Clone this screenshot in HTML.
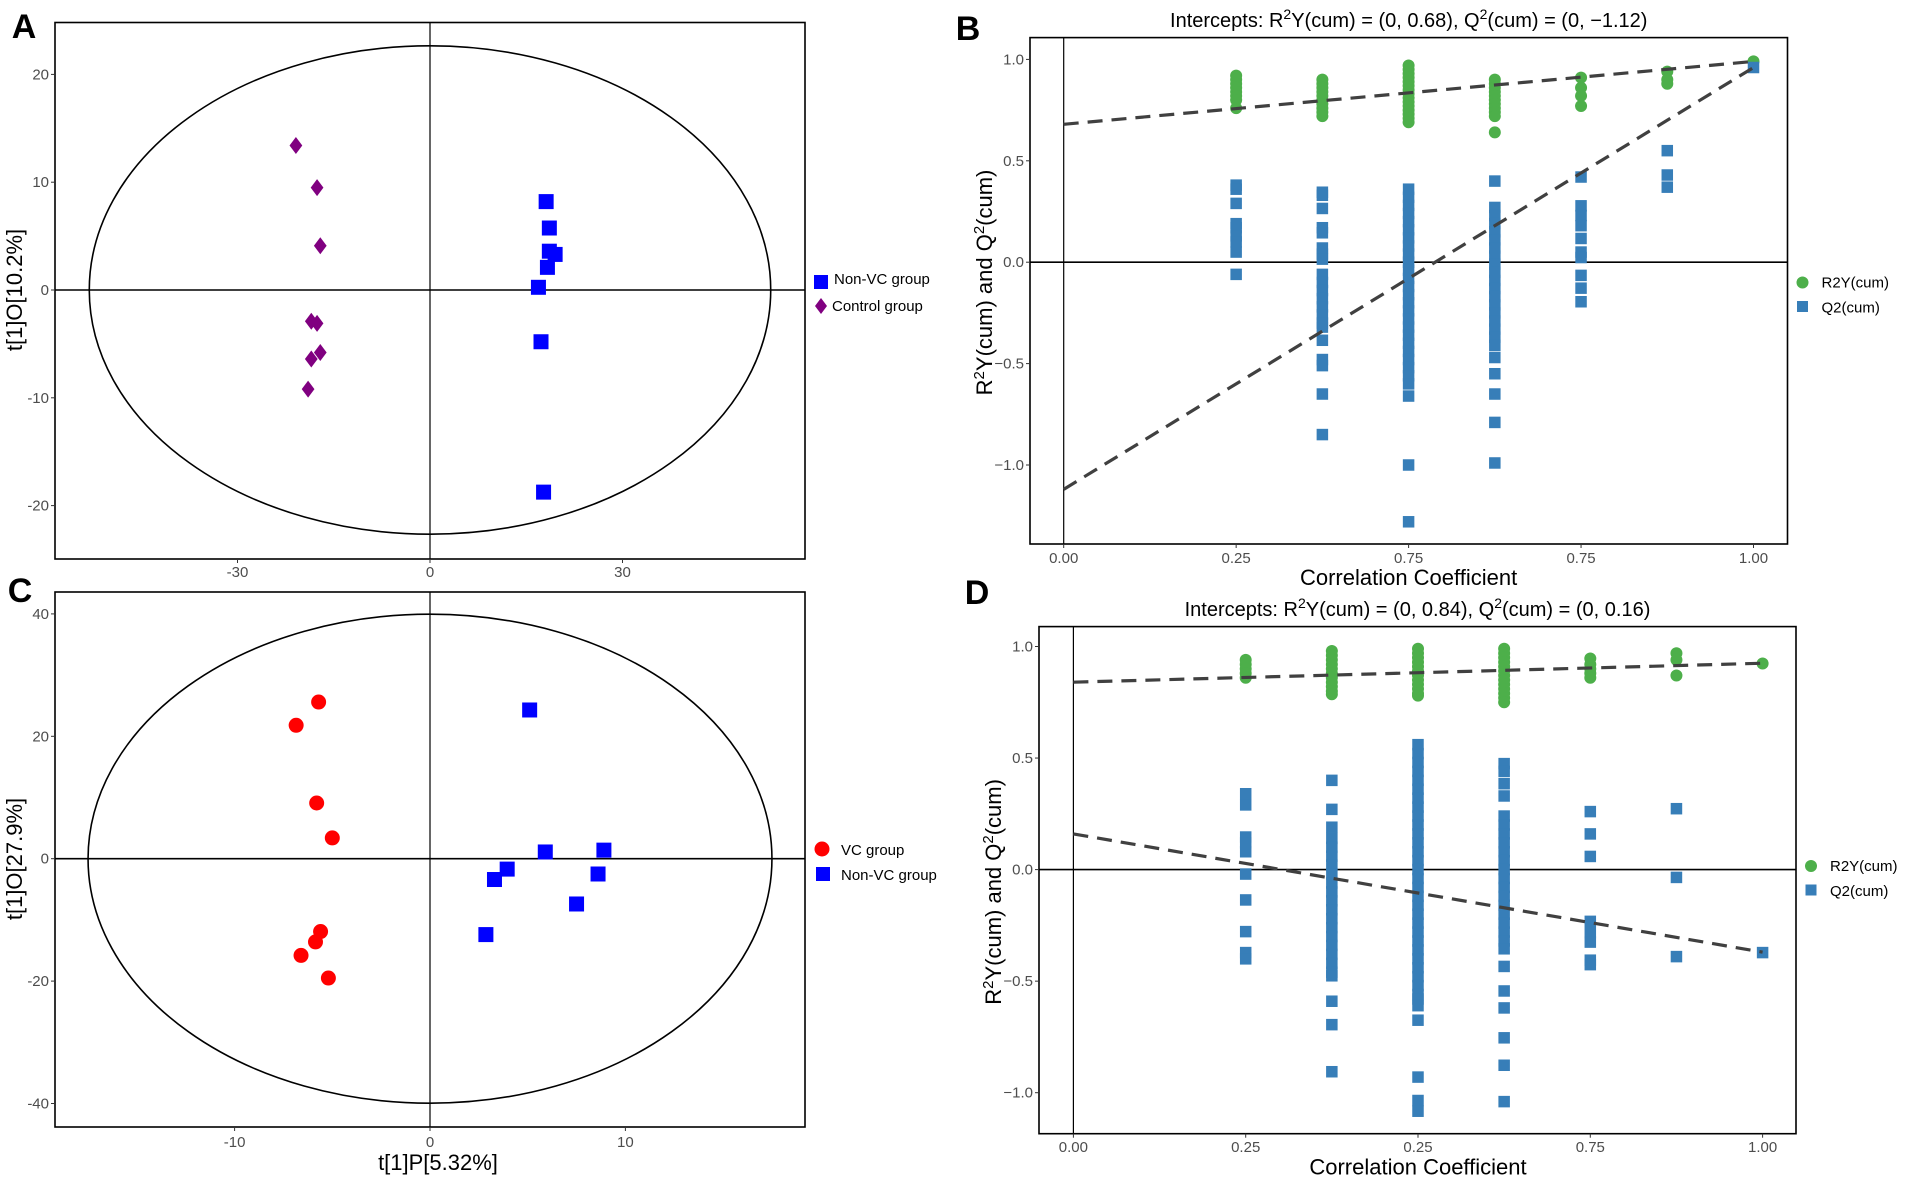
<!DOCTYPE html>
<html><head><meta charset="utf-8"><style>
html,body{margin:0;padding:0;background:#fff;}
svg{display:block;font-family:"Liberation Sans",Arial,sans-serif;}
.tick{font-size:15px;fill:#4d4d4d;}
.ttl{font-size:22px;fill:#000;}
.ctitle{font-size:20px;fill:#000;}
.leg{font-size:15px;fill:#000;}
.lab{font-size:34px;font-weight:bold;fill:#000;}
</style></head><body>
<svg id="fig" width="1905" height="1178" viewBox="0 0 1905 1178" xmlns="http://www.w3.org/2000/svg"></svg>
<script>
// ---- Panel A data ----
const A_ctrl_x=[-20.9,-17.6,-17.1,-18.5,-17.6,-18.5,-17.1,-19.0];
const A_ctrl_y=[13.4,9.5,4.1,-2.9,-3.1,-6.4,-5.8,-9.2];
const A_nonvc_x=[18.1,18.6,18.6,19.5,18.3,16.9,17.3,17.7];
const A_nonvc_y=[8.2,5.75,3.6,3.3,2.1,0.25,-4.8,-18.75];
const A_xticks=[-30,0,30];
const A_yticks=[-20,-10,0,10,20];
// ---- Panel C data ----
const C_vc_x=[-5.7,-6.85,-5.8,-5.0,-5.6,-5.86,-6.6,-5.2];
const C_vc_y=[25.6,21.8,9.1,3.4,-11.9,-13.6,-15.8,-19.5];
const C_nonvc_x=[5.1,5.9,8.9,3.95,3.3,8.6,7.5,2.86];
const C_nonvc_y=[24.3,1.1,1.4,-1.7,-3.4,-2.5,-7.4,-12.4];
const C_xticks=[-10,0,10];
const C_yticks=[-40,-20,0,20,40];
// ---- Panel B data ----
const perm_cols=[0.25,0.375,0.5,0.625,0.75,0.875,1.0];
const B_r2=[[0.92,0.9,0.88,0.86,0.84,0.82,0.8,0.76],
 [0.9,0.88,0.86,0.84,0.82,0.8,0.78,0.76,0.74,0.72],
 [0.97,0.95,0.93,0.91,0.89,0.87,0.85,0.83,0.81,0.79,0.77,0.75,0.73,0.71,0.69],
 [0.9,0.88,0.86,0.84,0.82,0.8,0.78,0.76,0.74,0.72,0.64],
 [0.91,0.86,0.82,0.77],
 [0.94,0.9,0.88],
 [0.99]];
const B_q2=[[0.38,0.36,0.29,0.19,0.17,0.13,0.1,0.05,-0.06],
 [0.345,0.33,0.265,0.17,0.145,0.07,0.04,0.015,-0.06,-0.1,-0.14,-0.18,-0.22,-0.26,-0.3,-0.32,-0.385,-0.48,-0.51,-0.65,-0.85],
 [0.36,0.32,0.28,0.24,0.2,0.16,0.12,0.08,0.04,0.0,-0.04,-0.08,-0.12,-0.16,-0.2,-0.24,-0.28,-0.32,-0.36,-0.4,-0.44,-0.48,-0.52,-0.56,-0.6,-0.66,-1.0,-1.28],
 [0.4,0.27,0.23,0.19,0.15,0.11,0.07,0.03,-0.01,-0.05,-0.09,-0.13,-0.17,-0.21,-0.25,-0.29,-0.33,-0.37,-0.41,-0.47,-0.55,-0.65,-0.79,-0.99],
 [0.42,0.278,0.23,0.18,0.117,0.05,0.023,-0.065,-0.128,-0.195],
 [0.55,0.43,0.37],
 [0.96]];
const B_line_r2=[0.68,0.99];
const B_line_q2=[-1.12,0.96];
const B_xticks=[0,0.25,0.5,0.75,1];
const B_xlabels=["0.00","0.25","0.75","0.75","1.00"];
const B_yticks=[-1,-0.5,0,0.5,1];
const B_ylabels=["\u22121.0","\u22120.5","0.0","0.5","1.0"];
// ---- Panel D data ----
const D_r2=[[0.94,0.92,0.9,0.88,0.86],
 [0.98,0.96,0.94,0.92,0.9,0.88,0.86,0.84,0.82,0.8,0.786],
 [0.99,0.97,0.95,0.93,0.91,0.89,0.87,0.85,0.83,0.81,0.79,0.78],
 [0.99,0.97,0.95,0.93,0.91,0.89,0.87,0.85,0.83,0.81,0.79,0.77,0.75],
 [0.946,0.92,0.9,0.88,0.86],
 [0.97,0.94,0.87],
 [0.924]];
const D_q2=[[0.34,0.29,0.146,0.12,0.08,-0.02,-0.136,-0.278,-0.372,-0.4],
 [0.4,0.27,0.19,0.14,0.1,0.06,0.02,-0.02,-0.06,-0.1,-0.14,-0.18,-0.22,-0.26,-0.3,-0.34,-0.38,-0.42,-0.46,-0.476,-0.59,-0.695,-0.906],
 [0.56,0.52,0.48,0.44,0.4,0.36,0.32,0.28,0.24,0.2,0.16,0.12,0.08,0.04,0.0,-0.04,-0.08,-0.12,-0.16,-0.2,-0.24,-0.28,-0.32,-0.36,-0.4,-0.44,-0.48,-0.52,-0.56,-0.58,-0.61,-0.675,-0.93,-1.035,-1.083],
 [0.475,0.44,0.385,0.33,0.24,0.2,0.16,0.12,0.08,0.04,0.0,-0.04,-0.08,-0.12,-0.16,-0.2,-0.24,-0.28,-0.32,-0.355,-0.434,-0.544,-0.62,-0.754,-0.877,-1.04],
 [0.26,0.16,0.059,-0.232,-0.283,-0.325,-0.406,-0.426],
 [0.273,-0.035,-0.39],
 [-0.372]];
const D_line_r2=[0.84,0.925];
const D_line_q2=[0.16,-0.37];
const D_xticks=[0,0.25,0.5,0.75,1];
const D_xlabels=["0.00","0.25","0.25","0.75","1.00"];
const D_yticks=[-1,-0.5,0,0.5,1];
const D_ylabels=["\u22121.0","\u22120.5","0.0","0.5","1.0"];

const NS="http://www.w3.org/2000/svg";
const svg=document.getElementById('fig');
function mk(tag,attrs,parent){const e=document.createElementNS(NS,tag);for(const k in attrs)e.setAttribute(k,attrs[k]);(parent||svg).appendChild(e);return e;}
function lin(d0,d1,p0,p1){return v=>p0+(v-d0)*(p1-p0)/(d1-d0);}

function group(name){const g=mk('g',{});


return g;}

function txt(g,x,y,s,cls,anchor,name){const t=mk('text',{x:x,y:y,class:cls,'text-anchor':anchor||'middle'},g);t.textContent=s;


return t;}

function frame(g,L,R,T,B){const r=mk('rect',{x:L,y:T,width:R-L,height:B-T,fill:'none',stroke:'#000','stroke-width':1.6},g);

}

function zeroLines(g,L,R,T,B,x0,y0){
const h=mk('line',{x1:L,x2:R,y1:y0,y2:y0,stroke:'#000','stroke-width':1.6},g);


const v=mk('line',{x1:x0,x2:x0,y1:T,y2:B,stroke:'#000','stroke-width':1.2},g);

}

function axes(g,L,B,sx,sy,xt,xl,yt,yl,xly){
xt.forEach((v,i)=>{const x=sx(v);
const tk=mk('line',{x1:x,x2:x,y1:B,y2:B+4,stroke:'#333','stroke-width':1},g);


txt(g,x,xly,xl[i],'tick','middle','x-tick-label');});
yt.forEach((v,i)=>{const y=sy(v);
const tk=mk('line',{x1:L-4,x2:L,y1:y,y2:y,stroke:'#333','stroke-width':1},g);


txt(g,L-6,y+5,yl[i],'tick','end','y-tick-label');});}

function square(g,x,y,s,fill,name){const r=mk('rect',{x:x-s/2,y:y-s/2,width:s,height:s,fill:fill},g);

}
function circle(g,x,y,r,fill,name){const c=mk('circle',{cx:x,cy:y,r:r,fill:fill},g);

}
function diamond(g,x,y,s,fill,name){const p=mk('polygon',{points:`${x},${y-s} ${x+s*0.75},${y} ${x},${y+s} ${x-s*0.75},${y}`,fill:fill},g);

}

// ===== Panel A =====
(function(){
const g=group('panel-a-opls-da-score-plot');
const L=55,R=805,T=22.5,B=559;
const sx=lin(0,30,430,622.5), sy=lin(0,20,290,74.4);
frame(g,L,R,T,B);
const e=mk('ellipse',{cx:sx(0),cy:sy(0),rx:sx(53.1)-sx(0),ry:sy(0)-sy(22.65),fill:'none',stroke:'#000','stroke-width':1.6},g);


zeroLines(g,L,R,T,B,sx(0),sy(0));
axes(g,L,B,sx,sy,A_xticks,A_xticks.map(String),A_yticks,A_yticks.map(String),577);
A_ctrl_x.forEach((v,i)=>diamond(g,sx(v),sy(A_ctrl_y[i]),8.5,'#800080','control-point'));
A_nonvc_x.forEach((v,i)=>square(g,sx(v),sy(A_nonvc_y[i]),15,'#0000ff','non-vc-point'));
const yt=txt(g,0,0,'t[1]O[10.2%]','ttl','middle','y-axis-title');yt.setAttribute('transform','translate(22,290) rotate(-90)');
square(g,821,282,14,'#0000ff','legend-non-vc-key');
txt(g,834,284,'Non-VC group','leg','start','legend-non-vc-label');
diamond(g,821,306,8,'#800080','legend-control-key');
txt(g,832,311,'Control group','leg','start','legend-control-label');
txt(g,24,38,'A','lab','middle','panel-label-a');
})();

// ===== Panel C =====
(function(){
const g=group('panel-c-opls-da-score-plot');
const L=55,R=805,T=592,B=1127;
const sx=lin(0,10,430,625.4), sy=lin(0,20,858.7,736.3);
frame(g,L,R,T,B);
const e=mk('ellipse',{cx:sx(0),cy:sy(0),rx:sx(17.5)-sx(0),ry:sy(0)-sy(39.95),fill:'none',stroke:'#000','stroke-width':1.6},g);


zeroLines(g,L,R,T,B,sx(0),sy(0));
axes(g,L,B,sx,sy,C_xticks,C_xticks.map(String),C_yticks,C_yticks.map(String),1147);
C_vc_x.forEach((v,i)=>circle(g,sx(v),sy(C_vc_y[i]),7.5,'#ff0000','vc-point'));
C_nonvc_x.forEach((v,i)=>square(g,sx(v),sy(C_nonvc_y[i]),15,'#0000ff','non-vc-point'));
const yt=txt(g,0,0,'t[1]O[27.9%]','ttl','middle','y-axis-title');yt.setAttribute('transform','translate(22,859) rotate(-90)');
txt(g,438,1170,'t[1]P[5.32%]','ttl','middle','x-axis-title');
circle(g,822,849,7.5,'#ff0000','legend-vc-key');
txt(g,841,855,'VC group','leg','start','legend-vc-label');
square(g,823,874,14,'#0000ff','legend-non-vc-key');
txt(g,841,880,'Non-VC group','leg','start','legend-non-vc-label');
txt(g,20,602,'C','lab','middle','panel-label-c');
})();

function permPanel(name,L,R,T,B,sx,sy,r2,q2,lr2,lq2,xl,yl,xly,title,titleY,legY,letter,letterY){
const g=group(name);
frame(g,L,R,T,B);
zeroLines(g,L,R,T,B,sx(0),sy(0));
axes(g,L,B,sx,sy,B_xticks,xl,B_yticks,yl,xly);
r2.forEach((col,i)=>col.forEach(v=>circle(g,sx(perm_cols[i]),sy(v),6,'#4daf4a','r2y-point')));
q2.forEach((col,i)=>col.forEach(v=>square(g,sx(perm_cols[i]),sy(v),11.5,'#377eb8','q2-point')));
const l1=mk('line',{x1:sx(0),y1:sy(lr2[0]),x2:sx(1),y2:sy(lr2[1]),stroke:'#404040','stroke-width':3.2,'stroke-dasharray':'15 9'},g);


const l2=mk('line',{x1:sx(0),y1:sy(lq2[0]),x2:sx(1),y2:sy(lq2[1]),stroke:'#404040','stroke-width':3.2,'stroke-dasharray':'15 9'},g);


const t=mk('text',{x:(L+R)/2,y:titleY,'text-anchor':'middle',class:'ctitle'},g);


t.innerHTML=title;
txt(g,(sx(0)+sx(1))/2,B+41,'Correlation Coefficient','ttl','middle','x-axis-title');
const yt=mk('text',{class:'ttl','text-anchor':'middle',transform:`translate(${L-38},${sy(-0.1)}) rotate(-90)`},g);


yt.innerHTML='R<tspan dy="-8" font-size="15">2</tspan><tspan dy="8">Y(cum) and Q</tspan><tspan dy="-8" font-size="15">2</tspan><tspan dy="8">(cum)</tspan>';
circle(g,R+15,legY,6,'#4daf4a','legend-r2y-key');
txt(g,R+34,legY+5,'R2Y(cum)','leg','start','legend-r2y-label');
square(g,R+15,legY+24,11,'#377eb8','legend-q2-key');
txt(g,R+34,legY+30,'Q2(cum)','leg','start','legend-q2-label');
txt(g,L-62,letterY,letter,'lab','middle','panel-label-'+letter.toLowerCase());
}
permPanel('panel-b-permutation-test',1030,1787.5,37.6,544,lin(0,1,1063.7,1753.5),lin(0,1,262.2,59.4),B_r2,B_q2,B_line_r2,B_line_q2,B_xlabels,B_ylabels,563,
'Intercepts: R<tspan dy="-8" font-size="14">2</tspan><tspan dy="8">Y(cum) = (0, 0.68), Q</tspan><tspan dy="-8" font-size="14">2</tspan><tspan dy="8">(cum) = (0, −1.12)</tspan>',27,282.5,'B',40);
permPanel('panel-d-permutation-test',1039,1796,626.6,1133.7,lin(0,1,1073.4,1762.6),lin(0,1,869.6,646.5),D_r2,D_q2,D_line_r2,D_line_q2,D_xlabels,D_ylabels,1152,
'Intercepts: R<tspan dy="-8" font-size="14">2</tspan><tspan dy="8">Y(cum) = (0, 0.84), Q</tspan><tspan dy="-8" font-size="14">2</tspan><tspan dy="8">(cum) = (0, 0.16)</tspan>',616,866,'D',604);
</script>
</body></html>
